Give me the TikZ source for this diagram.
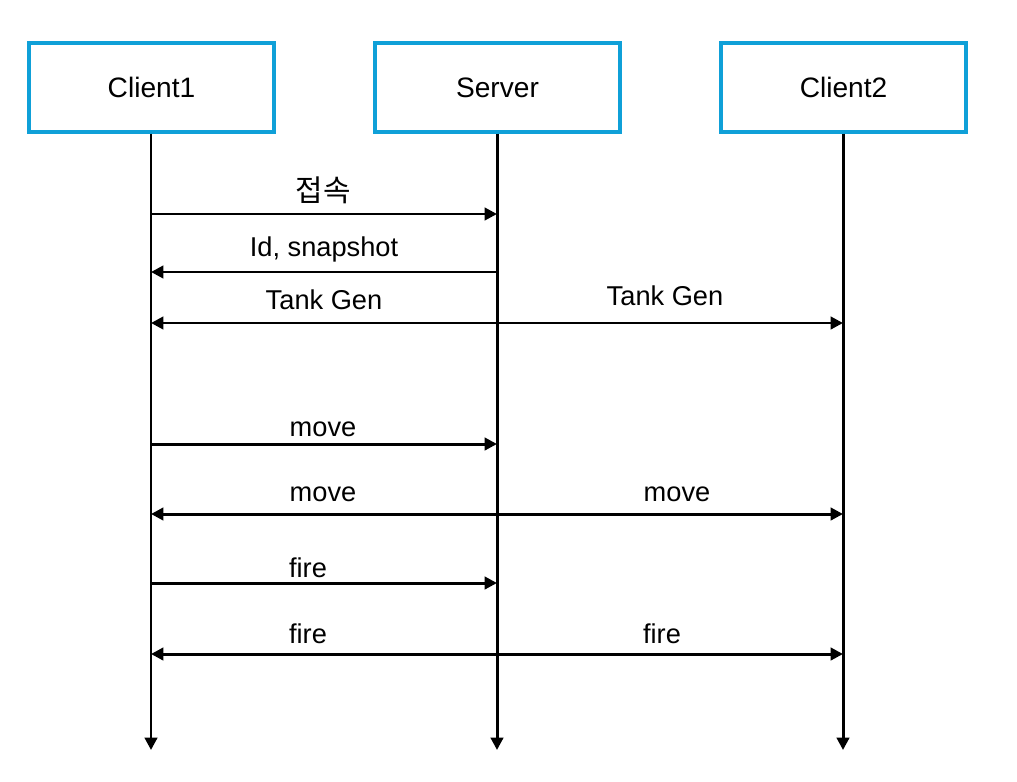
\documentclass[tikz,border=0pt]{standalone}
\usepackage{fontspec}
\setmainfont{Liberation Sans}
\newfontfamily\krfont{Noto Sans CJK KR}
\usetikzlibrary{arrows.meta}

\begin{document}
\begin{tikzpicture}[x=0.02cm, y=-0.02cm,
    actor/.style={draw=boxColour, line width=1.8pt, minimum width=4.9cm, minimum height=1.78cm, font=\fontsize{16}{18}\selectfont},
    lifeline/.style={line width=1.7pt, -{Triangle[length=7pt, width=7pt]}},
    msg/.style={line width=1.7pt, -{Triangle[length=7pt, width=7pt]}},
    msglabel/.style={inner sep=0pt, font=\fontsize{15.5}{18}\selectfont}]

    \definecolor{boxColour}{HTML}{0FA0D8}

    % Fix the canvas
    \useasboundingbox (0,0) rectangle (1017,781);

    % Participants
    \node[actor] (client1) at (151.5,87.5) {Client1};
    \node[actor] (server) at (497.5,87.5) {Server};
    \node[actor] (client2) at (843.5,87.5) {Client2};

    % Lifeline ends
    \coordinate (c1end) at (151,750);
    \coordinate (svend) at (497,750);
    \coordinate (c2end) at (843,750);

    % Draw lifelines
    \draw[lifeline] (client1.south -| c1end) -- (c1end);
    \draw[lifeline] (server.south -| svend) -- (svend);
    \draw[lifeline] (client2.south -| c2end) -- (c2end);

    % Message points on each lifeline
    \foreach \name/\y in {conn/214, snap/272, gen/323, mv/444, mvb/514, fr/583, frb/654} {
        \coordinate (c1-\name) at (151,\y);
        \coordinate (sv-\name) at (497,\y);
        \coordinate (c2-\name) at (843,\y);
    }

    % Connection and setup
    \draw[msg] (c1-conn) -- (sv-conn);
    \node[msglabel] (lconn) at (323,190) {\krfont\fontsize{17}{19}\selectfont 접속};
    \draw[msg] (sv-snap) -- (c1-snap);
    \node[msglabel] (lsnap) at (324,249) {Id, snapshot};
    \draw[msg] (sv-gen) -- (c1-gen);
    \draw[msg] (sv-gen) -- (c2-gen);
    \node[msglabel] (lgen1) at (324,300) {Tank Gen};
    \node[msglabel] (lgen2) at (665,296) {Tank Gen};

    % Movement
    \draw[msg] (c1-mv) -- (sv-mv);
    \node[msglabel] (lmv) at (323,429) {move};
    \draw[msg] (sv-mvb) -- (c1-mvb);
    \draw[msg] (sv-mvb) -- (c2-mvb);
    \node[msglabel] (lmvb1) at (323,494) {move};
    \node[msglabel] (lmvb2) at (677,494) {move};

    % Firing
    \draw[msg] (c1-fr) -- (sv-fr);
    \node[msglabel] (lfr) at (308,568) {fire};
    \draw[msg] (sv-frb) -- (c1-frb);
    \draw[msg] (sv-frb) -- (c2-frb);
    \node[msglabel] (lfrb1) at (308,634) {fire};
    \node[msglabel] (lfrb2) at (662,634) {fire};

\end{tikzpicture}
\end{document}
